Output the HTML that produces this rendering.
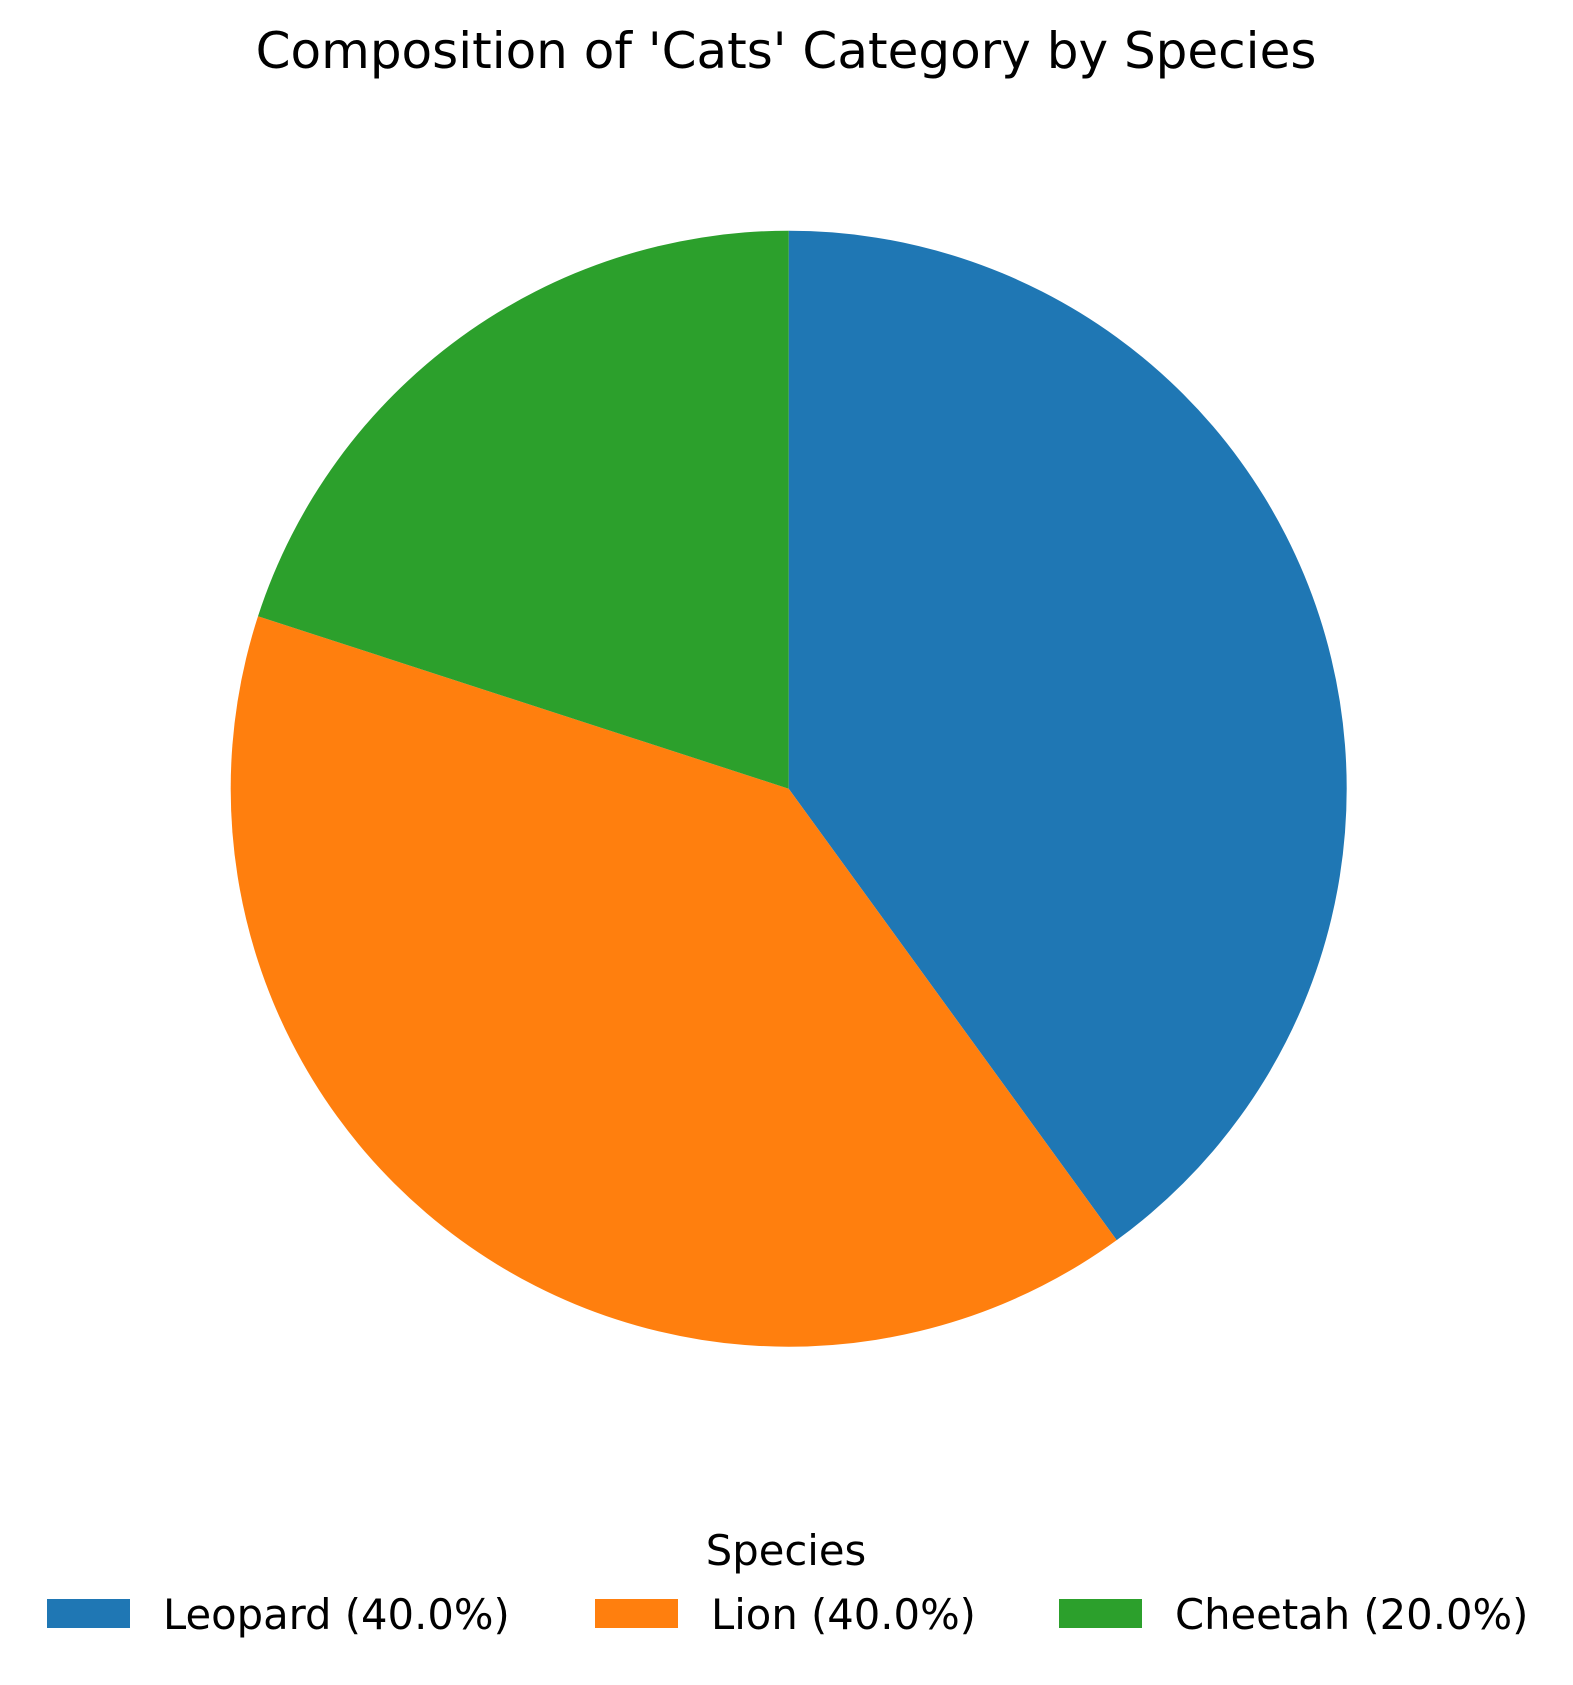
<!DOCTYPE html>
<html><head><meta charset="utf-8"><style>
body{margin:0;background:#fff;}
svg text{font-family:"DejaVu Sans","Liberation Sans",sans-serif;fill:#000;}
</style></head><body>
<svg width="1573" height="1680" viewBox="0 0 1573 1680" xmlns="http://www.w3.org/2000/svg">
<text x="786" y="68" font-size="50" text-anchor="middle">Composition of 'Cats' Category by Species</text>
<g id="slices"></g>
<text x="786" y="1565" font-size="41.7" text-anchor="middle">Species</text>
<g id="legend"></g>
</svg>
<script>
const categories = ["Leopard", "Lion", "Cheetah"];
const values = [40, 40, 20];
const colors = ["#1f77b4", "#ff7f0e", "#2ca02c"];
const NS = "http://www.w3.org/2000/svg";
const cx = 788.7, cy = 788.7, r = 558;
const total = values.reduce((a, b) => a + b, 0);
const g = document.getElementById("slices");
let ang = 90;
values.forEach((v, i) => {
  const sweep = v / total * 360;
  const a0 = ang * Math.PI / 180, a1 = (ang - sweep) * Math.PI / 180;
  const x0 = cx + r * Math.cos(a0), y0 = cy - r * Math.sin(a0);
  const x1 = cx + r * Math.cos(a1), y1 = cy - r * Math.sin(a1);
  const p = document.createElementNS(NS, "path");
  p.setAttribute("d", `M${cx},${cy} L${x0},${y0} A${r},${r} 0 ${sweep > 180 ? 1 : 0} 1 ${x1},${y1} Z`);
  p.setAttribute("fill", colors[i]);
  
  
  g.appendChild(p);
  ang -= sweep;
});
const lg = document.getElementById("legend");
const patchX = [47, 595, 1059];
categories.forEach((c, i) => {
  const rect = document.createElementNS(NS, "rect");
  rect.setAttribute("x", patchX[i]); rect.setAttribute("y", 1599);
  rect.setAttribute("width", 83); rect.setAttribute("height", 29);
  rect.setAttribute("fill", colors[i]);
  
  
  lg.appendChild(rect);
  const t = document.createElementNS(NS, "text");
  t.setAttribute("x", patchX[i] + 116); t.setAttribute("y", 1629);
  t.setAttribute("font-size", "41.7");
  t.textContent = `${c} (${(values[i] / total * 100).toFixed(1)}%)`;
  
  
  lg.appendChild(t);
});
</script>
</body></html>
